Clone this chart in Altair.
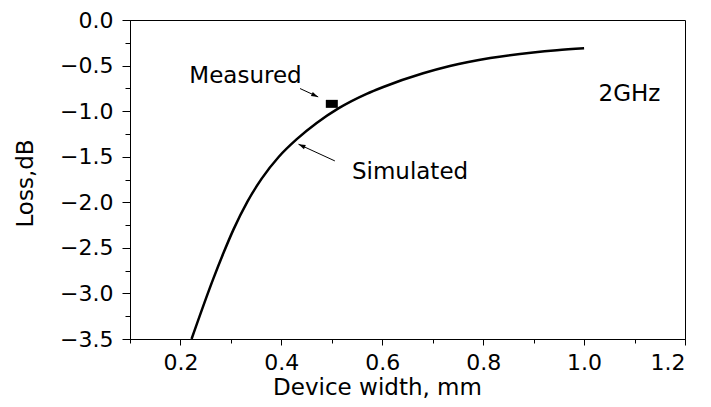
import altair as alt
import pandas as pd

# Simulated loss curve
curve_x = [0.222, 0.265, 0.285, 0.305, 0.333, 0.361, 0.395, 0.430, 0.470, 0.513,
           0.569, 0.602, 0.681, 0.734, 0.814, 0.899, 0.946, 1.000]
curve_y = [-3.50, -2.84, -2.56, -2.30, -1.99, -1.74, -1.50, -1.31, -1.13, -0.97,
           -0.81, -0.735, -0.585, -0.505, -0.418, -0.357, -0.332, -0.31]

# Measured point
meas_x = [0.5]
meas_y = [-0.92]

# Annotation labels
label_text = ["Measured", "Simulated", "2GHz"]
label_x = [0.329, 0.655, 1.090]
label_y = [-0.69, -1.747, -0.891]

# Annotation arrows (tail -> head)
arrow_x = [0.437, 0.506]
arrow_y = [-0.752, -1.546]
arrow_x2 = [0.473, 0.434]
arrow_y2 = [-0.844, -1.363]
arrow_angle = [24.7, 204.5]

# Axis ticks
x_major = [0.2, 0.4, 0.6, 0.8, 1.0, 1.2]
x_all = [0.1, 0.2, 0.3, 0.4, 0.5, 0.6, 0.7, 0.8, 0.9, 1.0, 1.1, 1.2]
y_major = [-3.5, -3.0, -2.5, -2.0, -1.5, -1.0, -0.5, 0.0]
y_all = [-3.5, -3.25, -3.0, -2.75, -2.5, -2.25, -2.0, -1.75, -1.5, -1.25,
         -1.0, -0.75, -0.5, -0.25, 0.0]

FONT = "DejaVu Sans"

curve = pd.DataFrame({"x": curve_x, "y": curve_y})
meas = pd.DataFrame({"x": meas_x, "y": meas_y})
labels = pd.DataFrame({"t": label_text, "x": label_x, "y": label_y})
arrows = pd.DataFrame({"x": arrow_x, "y": arrow_y, "x2": arrow_x2, "y2": arrow_y2,
                       "a": arrow_angle})

xs = alt.Scale(domain=[0.1, 1.2], nice=False, zero=False)
ys = alt.Scale(domain=[-3.5, 0.0], nice=False, zero=False)

x_axis = alt.Axis(values=x_major, format=".1f", orient="bottom", grid=False,
                  tickSize=6, tickColor="black", tickWidth=1,
                  domainColor="black", domainWidth=1,
                  labelFont=FONT, labelFontSize=22, labelColor="black", labelPadding=7,
                  title="Device width, mm", titleFont=FONT, titleFontSize=23,
                  titleFontWeight="normal", titleColor="black",
                  titleX=247, titleY=55, titleBaseline="alphabetic")
y_axis = alt.Axis(values=y_major, format=".1f", orient="left", grid=False,
                  tickSize=8, tickColor="black", tickWidth=1,
                  domainColor="black", domainWidth=1,
                  labelFont=FONT, labelFontSize=22, labelColor="black", labelPadding=9,
                  title="Loss,dB", titleFont=FONT, titleFontSize=23,
                  titleFontWeight="normal", titleColor="black",
                  titleX=-98, titleY=163, titleBaseline="alphabetic")

x_minor = alt.Axis(values=x_all, orient="bottom", labels=False, grid=False, domain=False,
                   tickSize=4, tickColor="black", tickWidth=1, title=None)
y_minor = alt.Axis(values=y_all, orient="left", labels=False, grid=False, domain=False,
                   tickSize=5, tickColor="black", tickWidth=1, title=None)

line = alt.Chart(curve).mark_line(color="black", strokeWidth=2.5,
                                  interpolate="monotone").encode(
    x=alt.X("x:Q", scale=xs, axis=x_axis),
    y=alt.Y("y:Q", scale=ys, axis=y_axis),
)

point = alt.Chart(meas).mark_point(
    shape="M-1.2,-0.8L1.2,-0.8L1.2,0.8L-1.2,0.8Z", size=100,
    filled=True, color="black", opacity=1).encode(
    x=alt.X("x:Q", scale=xs, axis=x_minor),
    y=alt.Y("y:Q", scale=ys, axis=y_minor),
)

rules = alt.Chart(arrows).mark_rule(color="black", strokeWidth=1).encode(
    x=alt.X("x:Q", scale=xs, axis=None), y=alt.Y("y:Q", scale=ys, axis=None),
    x2="x2:Q", y2="y2:Q")

heads = alt.Chart(arrows).mark_point(
    shape="M0,0L-1,-0.32L-1,0.32Z", size=196, filled=True, color="black",
    opacity=1).encode(
    x=alt.X("x2:Q", scale=xs, axis=None), y=alt.Y("y2:Q", scale=ys, axis=None),
    angle=alt.Angle("a:Q", scale=None))

texts = alt.Chart(labels).mark_text(font=FONT, fontSize=23, color="black",
                                    align="center", baseline="alphabetic").encode(
    x=alt.X("x:Q", scale=xs, axis=None), y=alt.Y("y:Q", scale=ys, axis=None),
    text="t:N")

chart = alt.layer(line, point, rules, heads, texts).resolve_axis(
    x="independent", y="independent"
).properties(
    width=555, height=319,
    autosize=alt.AutoSizeParams(type="none"),
    padding={"left": 122, "top": 12, "right": 18, "bottom": 60},
    background="white",
).configure_view(stroke="black", strokeWidth=1)

chart.save("out.html", embed_options={"renderer": "svg", "actions": False})
